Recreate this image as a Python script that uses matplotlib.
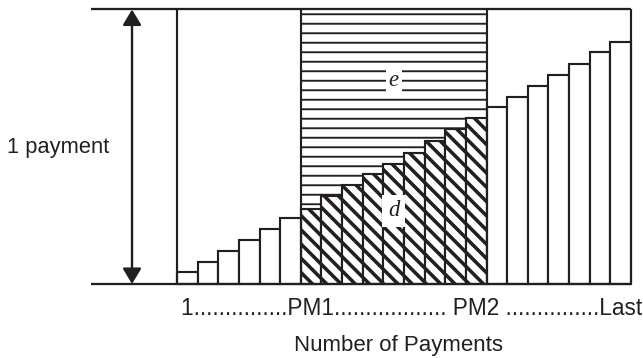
import numpy as np
import matplotlib
matplotlib.use("Agg")
import matplotlib.pyplot as plt

# bar heights as a fraction of one payment (principal part of each payment)
before_pm1 = [0.044, 0.080, 0.120, 0.160, 0.200, 0.240]
between_pm = [0.273, 0.321, 0.361, 0.401, 0.437, 0.477, 0.521, 0.565, 0.605]
after_pm2 = [0.645, 0.681, 0.721, 0.761, 0.801, 0.845, 0.882]

axis_text = "1" + "." * 15 + "PM1" + "." * 18 + " PM2 " + "." * 15 + "Last"
x_title = "Number of Payments"
y_title = "1 payment"
label_d = "d"
label_e = "e"

ink = "#231f20"
DPI = 171

pm1 = len(before_pm1)
pm2 = pm1 + len(between_pm)
n = pm2 + len(after_pm2)

x_before = np.arange(0, pm1)
x_mid = np.arange(pm1, pm2)
x_after = np.arange(pm2, n)
h_mid = np.array(between_pm)

fig = plt.figure(figsize=(643 / DPI, 358 / DPI), dpi=DPI)
ax = fig.add_axes([0, 0, 1, 1])
ax.axis("off")
ax.set_xlim(-8.577, 22.58)
ax.set_ylim(-0.2696, 1.0346)

sans = "Liberation Sans"
serif = "Liberation Serif"


def hatched_bars(x, h, bottom, hatch, hlw, lw, z):
    with plt.rc_context({"hatch.linewidth": hlw, "hatch.color": ink}):
        bars = ax.bar(x, h, bottom=bottom, width=1, align="edge",
                      facecolor="white", edgecolor=ink, linewidth=lw,
                      hatch=hatch, zorder=z)
    for b in bars:
        if hasattr(b, "set_hatch_linewidth"):
            b.set_hatch_linewidth(hlw)
    return bars


# region e: rest of each payment (interest), horizontal lines
hatched_bars(x_mid, 1 - h_mid, h_mid, "---", 0.8, 0, 1)
# region d: principal between PM1 and PM2
hatched_bars(x_mid, h_mid, 0, "\\\\\\\\", 1.5, 0.9, 2)

# plain bars
ax.bar(x_before, before_pm1, width=1, align="edge", facecolor="white",
       edgecolor=ink, linewidth=0.9, zorder=2)
ax.bar(x_after, after_pm2, width=1, align="edge", facecolor="white",
       edgecolor=ink, linewidth=0.9, zorder=2)

# frame lines
ax.hlines([0, 1], -4.17, n, color=ink, linewidth=0.95, zorder=3)
ax.vlines([0, pm1, pm2, n], 0, 1, color=ink, linewidth=0.9, zorder=3)

# double arrow for one payment
ax.annotate("", xy=(-2.18, 0), xytext=(-2.18, 1),
            arrowprops=dict(arrowstyle="<|-|>,head_length=0.55,head_width=0.33",
                            mutation_scale=10, lw=1.0, color=ink,
                            shrinkA=0, shrinkB=0), zorder=4)

mid = (pm1 + pm2) / 2
ax.text(mid, 0.743, label_e, ha="center", va="center", fontsize=9.5,
        family=serif, style="italic", color=ink,
        bbox=dict(facecolor="white", edgecolor="none", pad=1.2), zorder=5)
ax.text(mid, 0.266, label_d, ha="center", va="center", fontsize=9.5,
        family=serif, style="italic", color=ink,
        bbox=dict(facecolor="white", edgecolor="none", pad=2.5), zorder=5)

ax.text(-8.24, 0.477, y_title, ha="left", va="baseline", fontsize=9.2,
        family=sans, color=ink)
ax.text(0.18, -0.114, axis_text, ha="left", va="baseline", fontsize=9.5,
        family=sans, color=ink)
ax.text(10.72, -0.245, x_title, ha="center", va="baseline", fontsize=9.4,
        family=sans, color=ink)

fig.savefig("out.png", dpi=DPI)
